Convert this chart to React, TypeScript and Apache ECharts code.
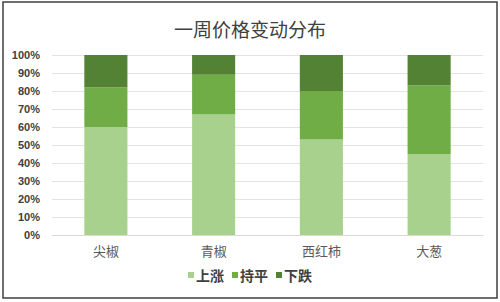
import React, { useEffect, useRef } from "react";
import * as echarts from "echarts";

const categories = ["尖椒", "青椒", "西红柿", "大葱"];
const seriesNames = ["上涨", "持平", "下跌"];
const riseValues = [60, 67, 53, 45];
const flatValues = [22, 22, 27, 38];
const fallValues = [18, 11, 20, 17];
const colors = ["#a9d18e", "#70ad47", "#548235"];

export default function App() {
  const ref = useRef<HTMLDivElement>(null);
  useEffect(() => {
    document.body.style.margin = "0";
    const chart = echarts.init(ref.current!, null, { renderer: "svg" });
    const dataSets = [riseValues, flatValues, fallValues];
    chart.setOption({
      animation: false,
      backgroundColor: "#ffffff",
      title: {
        text: "一周价格变动分布",
        left: "center",
        top: 14,
        textStyle: {
          fontFamily: "Noto Sans CJK SC",
          fontSize: 19,
          fontWeight: "normal",
          color: "#404040",
        },
      },
      legend: {
        data: seriesNames,
        bottom: 15,
        left: "center",
        itemWidth: 6,
        itemHeight: 6,
        itemGap: 8,
        icon: "rect",
        textStyle: {
          fontFamily: "Noto Sans CJK SC",
          fontSize: 14,
          fontWeight: "bold",
          color: "#404040",
          padding: [0, 0, 0, -3],
        },
      },
      grid: { left: 52, right: 17, top: 55, bottom: 67 },
      xAxis: {
        type: "category",
        data: categories,
        axisLine: { lineStyle: { color: "#d9d9d9" } },
        axisTick: { show: false },
        axisLabel: {
          margin: 9,
          fontFamily: "Noto Sans CJK SC",
          fontSize: 13,
          color: "#595959",
        },
      },
      yAxis: {
        type: "value",
        min: 0,
        max: 100,
        interval: 10,
        axisLine: { show: false },
        axisTick: { show: false },
        splitLine: { lineStyle: { color: "#e3e3e3" } },
        axisLabel: {
          formatter: "{value}%",
          margin: 12,
          fontFamily: "Liberation Sans",
          fontSize: 11,
          fontWeight: "bold",
          color: "#404040",
        },
      },
      series: seriesNames.map((name, i) => ({
        name,
        type: "bar",
        stack: "total",
        barWidth: "40%",
        data: dataSets[i],
        itemStyle: { color: colors[i] },
      })),
      graphic: [
        {
          type: "rect",
          shape: { x: 3, y: 2, width: 494, height: 296 },
          style: { fill: "none", stroke: "#404040", lineWidth: 1.5 },
          silent: true,
        },
      ],
    });
    return () => chart.dispose();
  }, []);
  return <div ref={ref} style={{ width: 500, height: 302 }} />;
}
